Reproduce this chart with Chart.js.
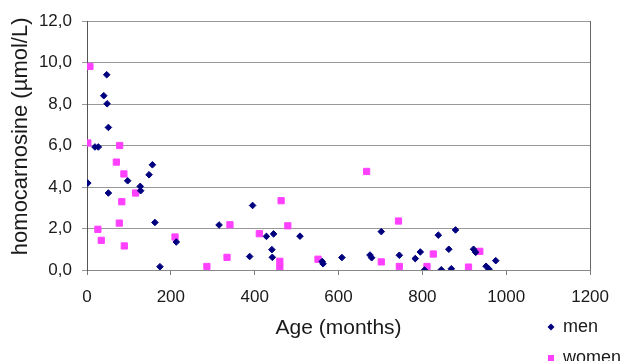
<!DOCTYPE html>
<html>
<head>
<meta charset="utf-8">
<script src="https://cdn.jsdelivr.net/npm/chart.js@4.4.1/dist/chart.umd.min.js"></script>
<style>
  body { margin: 0; background: #fff; }
  canvas { display: block; }
</style>
</head>
<body>
<canvas id="chart" width="621" height="361"></canvas>
<script>
// values (age in months, homocarnosine in umol/L)
var menAge = [2, 19, 27, 40, 47, 48, 51, 51, 97, 127, 128, 148, 156, 162, 174, 213,
              315, 388, 395, 428, 441, 442, 445, 508, 561, 563, 608, 675, 679, 702,
              745, 783, 795, 805, 838, 845, 863, 869, 879, 922, 927, 952, 959, 975];
var menVal = [4.19, 5.93, 5.93, 8.40, 9.41, 8.01, 6.87, 3.71, 4.30, 4.03, 3.82, 4.59, 5.07, 2.29, 0.16, 1.35,
              2.17, 0.65, 3.11, 1.62, 0.98, 0.61, 1.74, 1.63, 0.41, 0.30, 0.60, 0.72, 0.59, 1.85,
              0.71, 0.55, 0.87, 0.00, 1.68, 0.01, 1.00, 0.06, 1.93, 1.00, 0.85, 0.18, 0.04, 0.45];

var womenAge = [2, 7, 26, 34, 70, 77, 78, 83, 88, 89, 116, 210, 286, 334, 341,
                411, 460, 460, 463, 479, 551, 667, 702, 743, 745, 811, 826, 910, 937];
var womenVal = [6.12, 9.81, 1.96, 1.43, 5.20, 2.26, 6.00, 3.29, 4.63, 1.16, 3.71, 1.59, 0.17, 0.61, 2.18,
                1.75, 0.42, 0.14, 3.34, 2.13, 0.52, 4.75, 0.39, 2.36, 0.17, 0.17, 0.77, 0.14, 0.90];

var seriesNames = ["men", "women"];
var xTicks = [0, 200, 400, 600, 800, 1000, 1200];
var yTicks = [0, 2, 4, 6, 8, 10, 12];

var men_color = "#00007f";
var women_color = "#ff40ff";
var text_color = "#1a1a1a";
var font_family = "'Liberation Sans', Arial, sans-serif";

function toPoints(xs, ys) {
    var out = [];
    for (var i = 0; i < xs.length; i++) {
        out.push({x: xs[i], y: ys[i]});
    }
    return out;
}

// legend sits below the plot on the right, stacked, like the original
var sideLegend = {
    id: 'sideLegend',
    afterDraw: function(chart) {
        var ctx = chart.ctx;
        var rows = [327, 358];
        ctx.save();
        ctx.font = "18px " + font_family;
        ctx.textBaseline = "middle";
        chart.data.datasets.forEach(function(ds, i) {
            var y = rows[i];
            ctx.fillStyle = ds.backgroundColor;
            ctx.beginPath();
            if (ds.pointStyle === 'rectRot') {
                ctx.moveTo(551, y - 3.5);
                ctx.lineTo(554.5, y);
                ctx.lineTo(551, y + 3.5);
                ctx.lineTo(547.5, y);
            } else {
                ctx.rect(548, y - 3, 6, 6);
            }
            ctx.fill();
            ctx.fillStyle = text_color;
            ctx.fillText(ds.label, 563, y);
        });
        ctx.restore();
    }
};

var ctx = document.getElementById("chart").getContext("2d");
var chart = new Chart(ctx, {
    type: 'scatter',
    data: {
        datasets: [
            {
                label: seriesNames[0],
                data: toPoints(menAge, menVal),
                pointStyle: 'rectRot',
                pointRadius: 3.3,
                backgroundColor: men_color,
                borderColor: men_color,
                borderWidth: 1
            },
            {
                label: seriesNames[1],
                data: toPoints(womenAge, womenVal),
                pointStyle: 'rect',
                pointRadius: 4.4,
                backgroundColor: women_color,
                borderColor: women_color,
                borderWidth: 1
            }
        ]
    },
    options: {
        responsive: false,
        animation: false,
        layout: { padding: { left: 0, right: 28, top: 21, bottom: 0 } },
        plugins: {
            legend: { display: false },
            tooltip: { enabled: false }
        },
        scales: {
            x: {
                type: 'linear',
                min: xTicks[0],
                max: xTicks[xTicks.length - 1],
                afterBuildTicks: function(scale) {
                    scale.ticks = xTicks.map(function(v) { return {value: v}; });
                },
                afterFit: function(scale) { scale.height = 91; },
                grid: {
                    color: function(c) {
                        return c.tick && c.tick.value === 1200 ? "#666" : "rgba(0,0,0,0)";
                    },
                    tickColor: "#777",
                    tickLength: 5
                },
                border: { color: "#888" },
                ticks: {
                    padding: 12,
                    color: text_color,
                    font: { family: font_family, size: 17 },
                    maxRotation: 0,
                    callback: function(v) { return String(v); }
                },
                title: {
                    display: true,
                    text: "Age (months)",
                    color: text_color,
                    font: { family: font_family, size: 21 },
                    padding: { top: 0, bottom: 20 }
                }
            },
            y: {
                type: 'linear',
                min: yTicks[0],
                max: yTicks[yTicks.length - 1],
                afterBuildTicks: function(scale) {
                    scale.ticks = yTicks.map(function(v) { return {value: v}; });
                },
                afterFit: function(scale) { scale.width = 87; },
                grid: {
                    color: "#999",
                    tickColor: "#999",
                    tickLength: 5
                },
                border: { color: "#555" },
                ticks: {
                    padding: 10,
                    color: text_color,
                    font: { family: font_family, size: 17 },
                    callback: function(v) { return v.toFixed(1).replace('.', ','); }
                },
                title: {
                    display: true,
                    text: "   homocarnosine (\u00b5mol/L)",
                    color: text_color,
                    font: { family: font_family, size: 22 },
                    padding: { top: 8, bottom: 0 }
                }
            }
        }
    },
    plugins: [sideLegend]
});
</script>
</body>
</html>
